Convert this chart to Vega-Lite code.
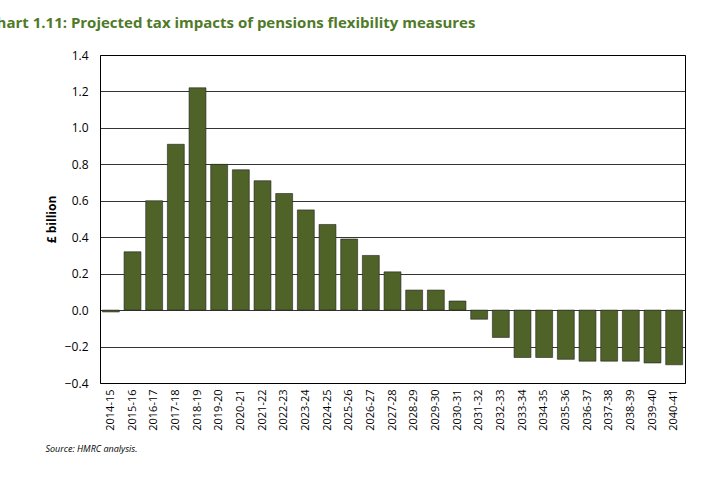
{
"$schema":"https://vega.github.io/schema/vega-lite/v6.json",
"width":585,"height":328,
"autosize":{"type":"none"},
"padding":{"left":100,"top":55,"right":31,"bottom":113},
"background":"white",
"title":{"text":"Chart 1.11: Projected tax impacts of pensions flexibility measures","anchor":"start","color":"#4f7a28","font":"Open Sans","fontSize":15,"fontWeight":"bold","offset":18,"dx":-58},
"data":{"values":[
{"y":"2014-15","v":-0.01},{"y":"2015-16","v":0.32},{"y":"2016-17","v":0.60},{"y":"2017-18","v":0.91},{"y":"2018-19","v":1.22},{"y":"2019-20","v":0.80},{"y":"2020-21","v":0.77},{"y":"2021-22","v":0.71},{"y":"2022-23","v":0.64},{"y":"2023-24","v":0.55},{"y":"2024-25","v":0.47},{"y":"2025-26","v":0.39},{"y":"2026-27","v":0.30},{"y":"2027-28","v":0.21},{"y":"2028-29","v":0.11},{"y":"2029-30","v":0.11},{"y":"2030-31","v":0.05},{"y":"2031-32","v":-0.05},{"y":"2032-33","v":-0.15},{"y":"2033-34","v":-0.26},{"y":"2034-35","v":-0.26},{"y":"2035-36","v":-0.27},{"y":"2036-37","v":-0.28},{"y":"2037-38","v":-0.28},{"y":"2038-39","v":-0.28},{"y":"2039-40","v":-0.29},{"y":"2040-41","v":-0.30}]},
"mark":{"type":"bar","color":"#4f6228","stroke":"#222","strokeWidth":0.6},
"encoding":{
"x":{"field":"y","type":"ordinal","scale":{"paddingInner":0.22,"paddingOuter":0.11},"axis":{"labelAngle":-90,"labelFont":"Open Sans","labelFontSize":11,"labelColor":"#000","domain":false,"ticks":false,"labelPadding":6,"title":"Source: HMRC analysis.","titleFont":"Open Sans","titleFontStyle":"italic","titleFontWeight":"normal","titleFontSize":9,"titleAnchor":"start","titleAlign":"left","titleX":-55,"titlePadding":14}},
"y":{"field":"v","type":"quantitative","scale":{"domain":[-0.4,1.4]},"axis":{"values":[-0.4,-0.2,0,0.2,0.4,0.6,0.8,1.0,1.2,1.4],"format":".1f","labelFont":"Open Sans","labelFontSize":12,"labelColor":"#000","gridColor":"#000","gridWidth":0.8,"domain":false,"ticks":false,"labelPadding":12,"title":"£ billion","titleFont":"Open Sans","titleFontSize":12,"titleFontWeight":"bold","titlePadding":6}}
},
"config":{"view":{"stroke":"#000","strokeWidth":1}}
}
